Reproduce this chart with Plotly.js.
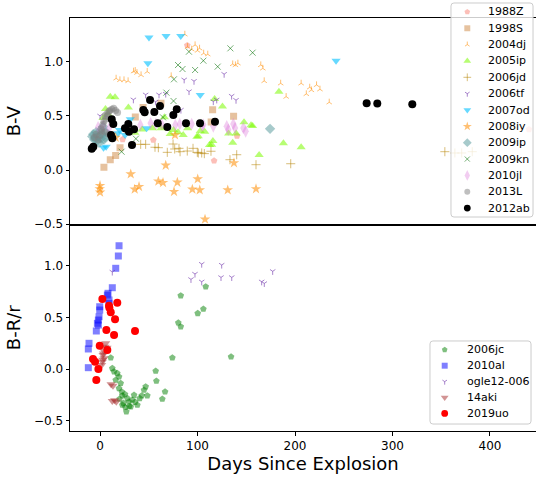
<!DOCTYPE html>
<html>
<head>
<meta charset="utf-8">
<script src="https://cdn.plot.ly/plotly-3.0.1.min.js"></script>
<style>html,body{margin:0;padding:0;overflow:hidden;background:#fff}</style>
</head>
<body>
<div id="chart" style="width:536px;height:478px"></div>
<script>
// ---------- Top panel (B-V) ----------
const topNames = ["1988Z","1998S","2004dj","2005ip","2006jd","2006tf","2007od","2008iy","2009ip","2009kn","2010jl","2013L","2012ab"];

const d1988Z = [23.2,54.7,89.5,117,140.5,440];
const bv1988Z = [0.283,0.277,1.15,0.085,0.315,0.375];

const d1998S = [4,10.5,16,20.5,28,36.2,44.2,62.5,115.5,114,137];
const bv1998S = [0.025,0.095,0.135,0.205,0.37,0.49,0.577,0.616,0.557,0.443,0.497];

const d2004dj = [16.5,20.4,24.6,28.8,34.4,36.1,37.9,42.1,48.4,73,87,89.8,94,97.5,100,102.1,106.3,110.5,136.1,138.9,141.4,164.9,167,168.4,185.3,190.9,206.3,211.6,215.1,216.8,222.1,225.6,235.1];
const bv2004dj = [0.846,0.831,0.831,0.822,0.911,0.917,0.898,0.877,0.908,0.868,1.252,1.138,1.114,1.154,1.102,1.123,1.077,1.068,0.978,0.969,0.985,0.969,0.938,0.822,0.8,0.677,0.8,0.702,0.763,0.738,0.785,0.745,0.625];

const d2005ip = [3,8,5.6,10.5,15.4,29.1,35.8,43.2,53.7,62.5,66,71.9,75.4,80,85.3,89.8,99.3,100.8,102.8,107.4,112.3,114.5,115.8,117.5,125.6,131.9,136.1,139.6,147.7,154.9,156.5,163.2,183.5,188.1,206.3];
const bv2005ip = [0.48,0.52,0.563,0.677,0.671,0.578,0.345,0.375,0.385,0.385,0.486,0.332,0.369,0.348,0.323,0.385,0.308,0.311,0.36,0.354,0.231,0.234,0.268,0.655,0.585,0.338,0.252,0.338,0.44,0.413,0.406,0.138,0.723,0.246,0.209];

const d2006jd = [41.7,46.8,56.4,59.8,69,74.9,76.6,81,82.1,89.5,95.4,99.8,100.8,104.3,107,113.8,133.3,140.2,160,195.6,353.7,364,371,381.8];
const bv2006jd = [0.237,0.237,0.21,0.206,0.163,0.24,0.194,0.2,0.169,0.175,0.2,0.163,0.157,0.157,0.151,0.173,0.095,0.141,0.049,0.058,0.169,0.157,0.157,0.169];

const d2006tf = [0,34.2,46.8,57,60.5,67.4,83,86.3,91.3,96.4,116.2,119.7,127.3,135,139.5];
const bv2006tf = [0.5,0.649,0.695,0.63,0.695,0.702,0.554,0.833,0.725,0.82,0.632,0.648,0.885,0.683,0.645];

const d2007od = [50.2,67.7,82.8,49.1,102.8,242.1,3.6,6.3,12,18.6,20,25.7,31,47.8];
const bv2007od = [1.222,1.237,1.237,0.985,0.692,1.009,0.206,0.215,0.30,0.339,0.37,0.323,0.468,0.385];

const d2008iy = [0,-0.3,0,16,31.5,35.6,40,59.8,64.6,67.4,75.9,76.9,79.3,94.7,100.2,102.3,107.7,131,137.4,160];
const bv2008iy = [-0.145,-0.175,-0.206,0.3,-0.037,-0.178,-0.154,-0.104,-0.117,0.043,-0.2,0.323,-0.114,-0.178,-0.083,-0.185,-0.455,-0.185,0.065,-0.175];

const d2009ip = [-8,-7,-6,-5,-4,-3,-2,-1,0,1,2,3,4,5,6,174.4];
const bv2009ip = [0.31,0.33,0.28,0.30,0.35,0.27,0.31,0.25,0.36,0.29,0.33,0.40,0.28,0.30,0.35,0.38];

const d2009kn = [22.1,36.8,64.6,68.1,75.4,75.8,80,84.6,91.2,97.5,106,120.7,133.7,156.5];
const bv2009kn = [0.169,0.289,0.486,0.714,0.637,0.837,0.969,0.932,1.092,0.923,1.009,0.954,1.123,1.083];

const d2010jl = [-2,3,9,41.4,51.9,57.2,63.2,77.2,81.8,94,104.6,106,116.2,130,131.6,136.7,138.5,147,149.4];
const bv2010jl = [0.394,0.406,0.38,0.415,0.431,0.425,0.425,0.415,0.425,0.425,0.406,0.418,0.403,0.403,0.372,0.425,0.388,0.388,0.357];

const d2013L = [-6,-4,-2,0,1,2,3,4,5,5,6,7,8,9,9,10,12,14,16,18];
const bv2013L = [0.30,0.33,0.28,0.32,0.38,0.36,0.42,0.45,0.50,0.35,0.47,0.52,0.50,0.54,0.33,0.55,0.56,0.57,0.55,0.53];

const d2012ab = [-8.5,-6.9,12,13.6,11.3,12.6,25.6,29,29.7,34.9,32.8,44.4,51.3,45.8,55.7,61.5,59.2,69,75.2,78.7,88.2,102.6,117.9,273.5,284.4,320.3];
const bv2012ab = [0.197,0.215,0.468,0.425,0.323,0.293,0.385,0.425,0.354,0.376,0.231,0.554,0.646,0.533,0.535,0.591,0.431,0.397,0.508,0.56,0.431,0.431,0.446,0.616,0.613,0.607];

// ---------- Bottom panel (B-R/r) ----------
const botNames = ["2006jc","2010al","ogle12-006","14aki","2019uo"];

const d2006jc = [11,12.6,14.4,17.7,19.5,16.1,21.2,19.5,22.3,22.9,25.6,28,29.7,33.1,34.9,38.3,40.7,42.8,45.1,46.8,48.5,27,31.5,22.9,24,26,30,36,20,57.1,57.8,66.7,63.9,74.2,80.3,82.8,82.8,100.2,106,108.4,134.4];
const br2006jc = [0.109,0.007,-0.026,-0.042,-0.075,-0.106,-0.138,-0.187,-0.22,-0.258,-0.245,-0.284,-0.317,-0.3,-0.252,-0.348,-0.284,-0.258,-0.203,-0.171,-0.258,-0.413,-0.365,-0.348,-0.33,-0.37,-0.36,-0.32,-0.29,-0.019,-0.116,-0.22,-0.29,0.109,0.448,0.41,0.71,0.539,0.581,0.797,0.119];

const d2010al = [19.5,18.8,16.1,12.6,8.2,7.5,9.2,9.2,-0.3,-0.3,-1,-1.7,-2.7,-1.7,-3.8,-11.3,-12,-12];
const br2010al = [1.194,1.094,0.975,0.787,0.733,0.716,0.668,0.636,0.603,0.571,0.506,0.474,0.442,0.426,0.368,0.249,0.194,0.013];

const dOgle = [104.3,124.8,97.4,93.3,104.3,124.1,135.1,165.8,168.5,177.1,12.6];
const brOgle = [1.016,1.007,0.92,0.868,0.845,0.887,0.887,0.845,0.829,0.946,0.94];

const d14aki = [5.8,5.1,4.1,3.1,4.1,2.4,1.7,3.5,2.8,7.2,11.3,13.3,12.6,15,16.7];
const br14aki = [0.249,0.216,0.174,0.136,0.104,0.071,0.039,0.15,0.09,0.206,-0.148,-0.162,-0.31,-0.303,-0.317];

const d2019uo = [2.4,9.2,17.7,11,15.4,6.5,14.4,35.9,-0.3,7.5,-7.2,-5.1,-1.7,-3.8,9.6];
const br2019uo = [0.678,0.613,0.642,0.549,0.481,0.378,0.329,0.368,0.226,0.184,0.097,0.071,0.0,-0.106,0.594];

const xTicks = [0,100,200,300,400];
const yTicks = [-0.5,0,0.5,1.0];

// ---------- styles ----------
const topStyle = {
  "1988Z":  {symbol:"pentagon", color:"rgba(250,128,114,0.5)", size:7},
  "1998S":  {symbol:"square", color:"rgba(205,133,63,0.5)", size:7},
  "2004dj": {symbol:"y-up", color:"rgba(255,140,0,0.55)", size:4.5, open:true},
  "2005ip": {symbol:"triangle-up", color:"rgba(124,252,0,0.55)", size:8},
  "2006jd": {symbol:"cross-thin", color:"rgba(184,134,11,0.55)", size:6.5, open:true},
  "2006tf": {symbol:"y-down", color:"rgba(110,50,170,0.6)", size:4.5, open:true},
  "2007od": {symbol:"triangle-down", color:"rgba(0,191,255,0.6)", size:8},
  "2008iy": {symbol:"star", color:"rgba(255,140,0,0.55)", size:8},
  "2009ip": {symbol:"diamond", color:"rgba(95,158,160,0.55)", size:8},
  "2009kn": {symbol:"x-thin", color:"rgba(0,110,0,0.55)", size:6, open:true},
  "2010jl": {symbol:"diamond-tall", color:"rgba(218,112,214,0.35)", size:9},
  "2013L":  {symbol:"circle", color:"rgba(128,128,128,0.5)", size:7},
  "2012ab": {symbol:"circle", color:"rgb(0,0,0)", size:8}
};
const botStyle = {
  "2006jc": {symbol:"pentagon", color:"rgba(0,128,0,0.5)", size:7},
  "2010al": {symbol:"square", color:"rgba(0,0,255,0.5)", size:7},
  "ogle12-006": {symbol:"y-down", color:"rgba(110,50,170,0.6)", size:4.5, open:true},
  "14aki": {symbol:"triangle-down", color:"rgba(165,42,42,0.5)", size:8},
  "2019uo": {symbol:"circle", color:"rgb(255,0,0)", size:8}
};

function mk(style, scale){
  const s = style.size * (scale || 1);
  if (style.open) return {symbol:style.symbol, size:s, color:style.color, line:{color:style.color, width:1}};
  return {symbol:style.symbol, size:s, color:style.color, line:{width:0}};
}

const topData = {
  "1988Z":[d1988Z,bv1988Z], "1998S":[d1998S,bv1998S], "2004dj":[d2004dj,bv2004dj],
  "2005ip":[d2005ip,bv2005ip], "2006jd":[d2006jd,bv2006jd], "2006tf":[d2006tf,bv2006tf],
  "2007od":[d2007od,bv2007od], "2008iy":[d2008iy,bv2008iy], "2009ip":[d2009ip,bv2009ip],
  "2009kn":[d2009kn,bv2009kn], "2010jl":[d2010jl,bv2010jl], "2013L":[d2013L,bv2013L],
  "2012ab":[d2012ab,bv2012ab]
};
const botData = {
  "2006jc":[d2006jc,br2006jc], "2010al":[d2010al,br2010al], "ogle12-006":[dOgle,brOgle],
  "14aki":[d14aki,br14aki], "2019uo":[d2019uo,br2019uo]
};

const traces = [];
topNames.forEach(n => {
  traces.push({type:"scatter", mode:"markers", name:n, x:topData[n][0], y:topData[n][1],
    xaxis:"x", yaxis:"y", marker:mk(topStyle[n]), showlegend:false, hoverinfo:"skip"});
});
botNames.forEach(n => {
  traces.push({type:"scatter", mode:"markers", name:n, x:botData[n][0], y:botData[n][1],
    xaxis:"x2", yaxis:"y2", marker:mk(botStyle[n]), showlegend:false, hoverinfo:"skip"});
});

// ---------- custom legends (drawn in their own pixel-unit axes) ----------
const FONT = "DejaVu Sans, Arial, sans-serif";
const annotations = [];
topNames.forEach((n,i) => {
  const yy = 207 - 16.5*i;
  traces.push({type:"scatter", mode:"markers", x:[16.7], y:[yy], xaxis:"x3", yaxis:"y3",
    marker:mk(topStyle[n], 0.85), showlegend:false, hoverinfo:"skip", cliponaxis:false});
  annotations.push({xref:"x3", yref:"y3", x:36, y:yy, text:n, showarrow:false,
    xanchor:"left", yanchor:"middle", font:{family:FONT, size:11, color:"#000"}});
});
botNames.forEach((n,i) => {
  const yy = 76 - 16.3*i;
  traces.push({type:"scatter", mode:"markers", x:[15], y:[yy], xaxis:"x4", yaxis:"y4",
    marker:mk(botStyle[n], 0.85), showlegend:false, hoverinfo:"skip", cliponaxis:false});
  annotations.push({xref:"x4", yref:"y4", x:36, y:yy, text:n, showarrow:false,
    xanchor:"left", yanchor:"middle", font:{family:FONT, size:11, color:"#000"}});
});

function roundRect(w,h,r){
  return `M${r},0 L${w-r},0 Q${w},0 ${w},${r} L${w},${h-r} Q${w},${h} ${w-r},${h} L${r},${h} Q0,${h} 0,${h-r} L0,${r} Q0,0 ${r},0 Z`;
}
const shapes = [
  {type:"path", xref:"x3", yref:"y3", path:roundRect(84,216,3), layer:"below",
   fillcolor:"rgba(255,255,255,0.8)", line:{color:"#cccccc", width:1}},
  {type:"path", xref:"x4", yref:"y4", path:roundRect(103,85,3), layer:"below",
   fillcolor:"rgba(255,255,255,0.8)", line:{color:"#cccccc", width:1}}
];

const L = 70, W = 536, PH = 431;
const px = v => (v - L)/(W - L);
const py = v => (PH - v)/PH;

const axBase = {showgrid:false, zeroline:false, showline:true, linecolor:"#000", linewidth:1,
  ticks:"outside", ticklen:3.5, tickwidth:1, tickcolor:"#000",
  tickfont:{family:FONT, size:12, color:"#000"}};

const hidden = {visible:false, showgrid:false, zeroline:false, fixedrange:true};

const layout = {
  width:536, height:478,
  margin:{l:L, r:0, t:0, b:478-PH},
  paper_bgcolor:"#fff", plot_bgcolor:"rgba(0,0,0,0)",
  font:{family:FONT, color:"#000"},
  showlegend:false,
  xaxis: Object.assign({}, axBase, {domain:[0,1], anchor:"y", range:[-30.8,447.2],
    tickvals:xTicks, showticklabels:false, ticks:"", mirror:true}),
  yaxis: Object.assign({}, axBase, {domain:[py(224.5), py(18)], anchor:"x", range:[-0.503,1.403],
    tickvals:yTicks, tickformat:".1f",
    title:{text:"B-V", font:{family:FONT, size:18, color:"#000"}, standoff:8}}),
  xaxis2: Object.assign({}, axBase, {domain:[0,1], anchor:"y2", range:[-30.8,447.2],
    tickvals:xTicks, mirror:true,
    title:{text:"Days Since Explosion", font:{family:FONT, size:18, color:"#000"}, standoff:4}}),
  yaxis2: Object.assign({}, axBase, {domain:[0, py(224.5)], anchor:"x2", range:[-0.6,1.399],
    tickvals:yTicks, tickformat:".1f",
    title:{text:"B-R/r", font:{family:FONT, size:18, color:"#000"}, standoff:8}}),
  xaxis3: Object.assign({}, hidden, {domain:[px(450), px(534)], anchor:"y3", range:[-1,85]}),
  yaxis3: Object.assign({}, hidden, {domain:[py(218), py(2)], anchor:"x3", range:[-1,217]}),
  xaxis4: Object.assign({}, hidden, {domain:[px(429), px(532)], anchor:"y4", range:[-1,104]}),
  yaxis4: Object.assign({}, hidden, {domain:[py(425), py(340)], anchor:"x4", range:[-1,86]}),
  shapes: shapes,
  annotations: annotations
};

Plotly.newPlot("chart", traces, layout, {displayModeBar:false, staticPlot:true});
</script>
</body>
</html>
